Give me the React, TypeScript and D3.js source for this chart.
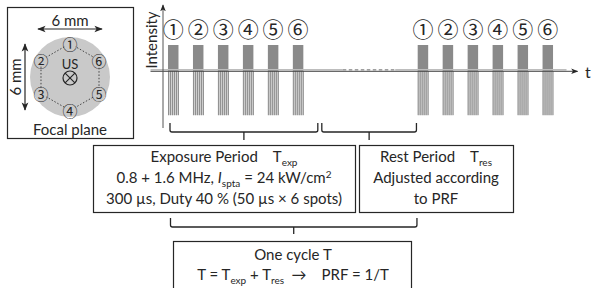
import React from 'react';
import * as d3 from 'd3';

// ---- data ----
const pulseLabels = ['①', '②', '③', '④', '⑤', '⑥'];
const pulseStarts = [0.2, 1.2, 2.2, 3.2, 4.2, 5.2]; // time units, 1 unit = pulse period
const groupOffsets = [0, 10];
const pulseWidth = 0.42;
const pulseHeight = 1;
const stripeDepth = -1.7;
const stripeOffsets = [0, 0.08, 0.16, 0.24, 0.32, 0.4];

const spotLabels = ['①', '②', '③', '④', '⑤', '⑥'];
const spotAngles = [90, 150, 210, 270, 330, 30];

const topBrackets = [
  { from: 0.28, to: 6.2 },
  { from: 6.36, to: 10.15 },
];
const cycleBracket = { from: 0.3, to: 10.17 };
const restDashes = [7.2, 9.3];
const baselineEnd = 16.16;

const FONT = 'Lato, "Open Sans", sans-serif';
const CJK = '"Noto Sans CJK JP", "DejaVu Sans", sans-serif';
const INK = '#262626';

const App = () => {
  const W = 593;
  const H = 288;

  const x = d3.scaleLinear().domain([0, 16.7]).range([163, 580]);
  const y = d3.scaleLinear().domain([0, 1]).range([71, 45]);

  // focal plane geometry
  const fc = { x: 70, y: 77 };
  const hexR = 33.5;
  const spots = spotAngles.map((a, i) => {
    const rad = (a * Math.PI) / 180;
    return { label: spotLabels[i], x: fc.x + hexR * Math.cos(rad), y: fc.y - hexR * Math.sin(rad) };
  });
  // around the hexagon: 1,2,3,4,5,6,1
  const hexLine = d3.line<{ x: number; y: number }>().x(d => d.x).y(d => d.y)([...spots, spots[0]]) || '';

  const pulses = groupOffsets.flatMap(g => pulseStarts.map((s, i) => ({ t: s + g, label: pulseLabels[i] })));

  const bracket = (from: number, to: number, top: number, mid: number, tick: number) => {
    const x1 = x(from);
    const x2 = x(to);
    const xm = (x1 + x2) / 2;
    return `M${x1},${top} V${mid - 2} Q${x1},${mid} ${x1 + 2},${mid} H${x2 - 2} Q${x2},${mid} ${x2},${mid - 2} V${top} M${xm},${mid} V${tick}`;
  };

  return (
    <svg width={W} height={H} style={{ display: 'block', position: 'absolute', left: 0, top: 0 }}>
      <defs>
        <marker id="ah" viewBox="0 0 10 10" refX="9" refY="5" markerWidth="7" markerHeight="7" orient="auto-start-reverse">
          <path d="M0,1 L10,5 L0,9 L2.5,5 Z" fill={INK} />
        </marker>
      </defs>
      <rect width={W} height={H} fill="#fff" />

      {/* focal plane panel */}
      <rect x={7.5} y={7.5} width={126} height={131} fill="none" stroke={INK} strokeWidth={1.2} />
      <circle cx={fc.x} cy={fc.y} r={40} fill="#c9c9c9" />
      <path d={hexLine} fill="none" stroke="#444" strokeWidth={1} strokeDasharray="1.5,1.8" />
      {spots.map(s => (
        <g key={s.label}>
          <circle cx={s.x} cy={s.y} r={6.3} fill="#c9c9c9" />
          <text x={s.x} y={s.y} textAnchor="middle" dominantBaseline="central" fontFamily={CJK} fontSize={15} fill={INK}>{s.label}</text>
        </g>
      ))}
      <text x={fc.x} y={64} textAnchor="middle" dominantBaseline="central" fontFamily={FONT} fontSize={13} fill={INK}>US</text>
      <circle cx={fc.x} cy={fc.y + 1} r={7} fill="none" stroke={INK} strokeWidth={1.2} />
      <path d={`M${fc.x - 4.9},${fc.y - 3.9} L${fc.x + 4.9},${fc.y + 5.9} M${fc.x + 4.9},${fc.y - 3.9} L${fc.x - 4.9},${fc.y + 5.9}`} stroke={INK} strokeWidth={1.2} />
      <line x1={38} x2={102} y1={29} y2={29} stroke={INK} strokeWidth={1.2} markerStart="url(#ah)" markerEnd="url(#ah)" />
      <text x={70} y={20} textAnchor="middle" dominantBaseline="central" fontFamily={FONT} fontSize={15} fill={INK}>6 mm</text>
      <line x1={25} x2={25} y1={44} y2={110} stroke={INK} strokeWidth={1.2} markerStart="url(#ah)" markerEnd="url(#ah)" />
      <text transform="translate(15,77) rotate(-90)" textAnchor="middle" dominantBaseline="central" fontFamily={FONT} fontSize={15} fill={INK}>6 mm</text>
      <text x={70} y={129} textAnchor="middle" dominantBaseline="central" fontFamily={FONT} fontSize={15} fill={INK}>Focal plane</text>

      {/* timeline */}
      <text transform="translate(151,40) rotate(-90)" textAnchor="middle" dominantBaseline="central" fontFamily={FONT} fontSize={15} fill={INK}>Intensity</text>
      {pulses.map((p, i) => (
        <g key={i}>
          <rect x={x(p.t)} y={y(pulseHeight)} width={x(p.t + pulseWidth) - x(p.t)} height={y(0) - y(pulseHeight)} fill="#8a8a8a" />
          <rect x={x(p.t)} y={y(0)} width={x(p.t + pulseWidth) - x(p.t)} height={y(stripeDepth) - y(0)} fill="#d2d2d2" />
          {stripeOffsets.map(o => (
            <line key={o} x1={x(p.t + o) + 0.5} x2={x(p.t + o) + 0.5} y1={y(0)} y2={y(stripeDepth)} stroke="#8e8e8e" strokeWidth={1} />
          ))}
          <text x={x(p.t + pulseWidth / 2)} y={28} textAnchor="middle" dominantBaseline="central" fontFamily={CJK} fontSize={21} fill={INK}>{p.label}</text>
        </g>
      ))}
      <line x1={x(-0.5)} x2={x(restDashes[0])} y1={69.8} y2={69.8} stroke="#bdbdbd" strokeWidth={1.6} />
      <line x1={x(restDashes[0])} x2={x(restDashes[1])} y1={69.8} y2={69.8} stroke="#a0a0a0" strokeWidth={1.6} strokeDasharray="3.5,2.5" />
      <line x1={x(restDashes[1])} x2={x(baselineEnd)} y1={69.8} y2={69.8} stroke="#bdbdbd" strokeWidth={1.6} />
      <line x1={x(-0.5)} x2={x(16.6)} y1={71.3} y2={71.3} stroke="#444" strokeWidth={1} markerEnd="url(#ah)" />
      <line x1={x(0)} x2={x(0)} y1={128} y2={5} stroke="#555" strokeWidth={1} markerEnd="url(#ah)" />
      <text x={585} y={71} textAnchor="start" dominantBaseline="central" fontFamily={FONT} fontSize={16} fill={INK}>t</text>

      {/* brackets */}
      {topBrackets.map((b, i) => (
        <path key={i} d={bracket(b.from, b.to, 123, 132, 140)} fill="none" stroke={INK} strokeWidth={1.3} />
      ))}
      <path d={bracket(cycleBracket.from, cycleBracket.to, 218, 227, 234)} fill="none" stroke={INK} strokeWidth={1.3} />

      {/* exposure box */}
      <rect x={93.5} y={145.5} width={262} height={67} fill="#fff" stroke={INK} strokeWidth={1.2} />
      <g fontFamily={FONT} fontSize={15} fill={INK} textAnchor="middle">
        <text x={224} y={162}>
          Exposure Period{'\u2002\u2002'}T<tspan fontSize={10} dy={4}>exp</tspan>
        </text>
        <text x={224} y={183}>
          0.8 + 1.6 MHz, <tspan fontStyle="italic">I</tspan><tspan fontSize={10} dy={4}>spta</tspan><tspan dy={-4}> = 24 kW/cm</tspan><tspan fontSize={10} dy={-5}>2</tspan>
        </text>
        <text x={224} y={204}>300 µs, Duty 40 % (50 µs × 6 spots)</text>
      </g>

      {/* rest box */}
      <rect x={359.5} y={145.5} width={154} height={67} fill="#fff" stroke={INK} strokeWidth={1.2} />
      <g fontFamily={FONT} fontSize={15} fill={INK} textAnchor="middle">
        <text x={436} y={162}>
          Rest Period{'\u2002\u2002'}T<tspan fontSize={10} dy={4}>res</tspan>
        </text>
        <text x={436} y={183}>Adjusted according</text>
        <text x={436} y={204}>to PRF</text>
      </g>

      {/* cycle box */}
      <rect x={173.5} y={241.5} width={238} height={60} fill="#fff" stroke={INK} strokeWidth={1.2} />
      <g fontFamily={FONT} fontSize={15} fill={INK} textAnchor="middle">
        <text x={293} y={260}>One cycle T</text>
        <text x={293} y={280}>
          T = T<tspan fontSize={10} dy={4}>exp</tspan><tspan dy={-4}> + T</tspan><tspan fontSize={10} dy={4}>res</tspan><tspan dy={-4}>{'\u2002\u2192\u2002\u2002'}PRF = 1/T</tspan>
        </text>
      </g>
    </svg>
  );
};

export default App;
